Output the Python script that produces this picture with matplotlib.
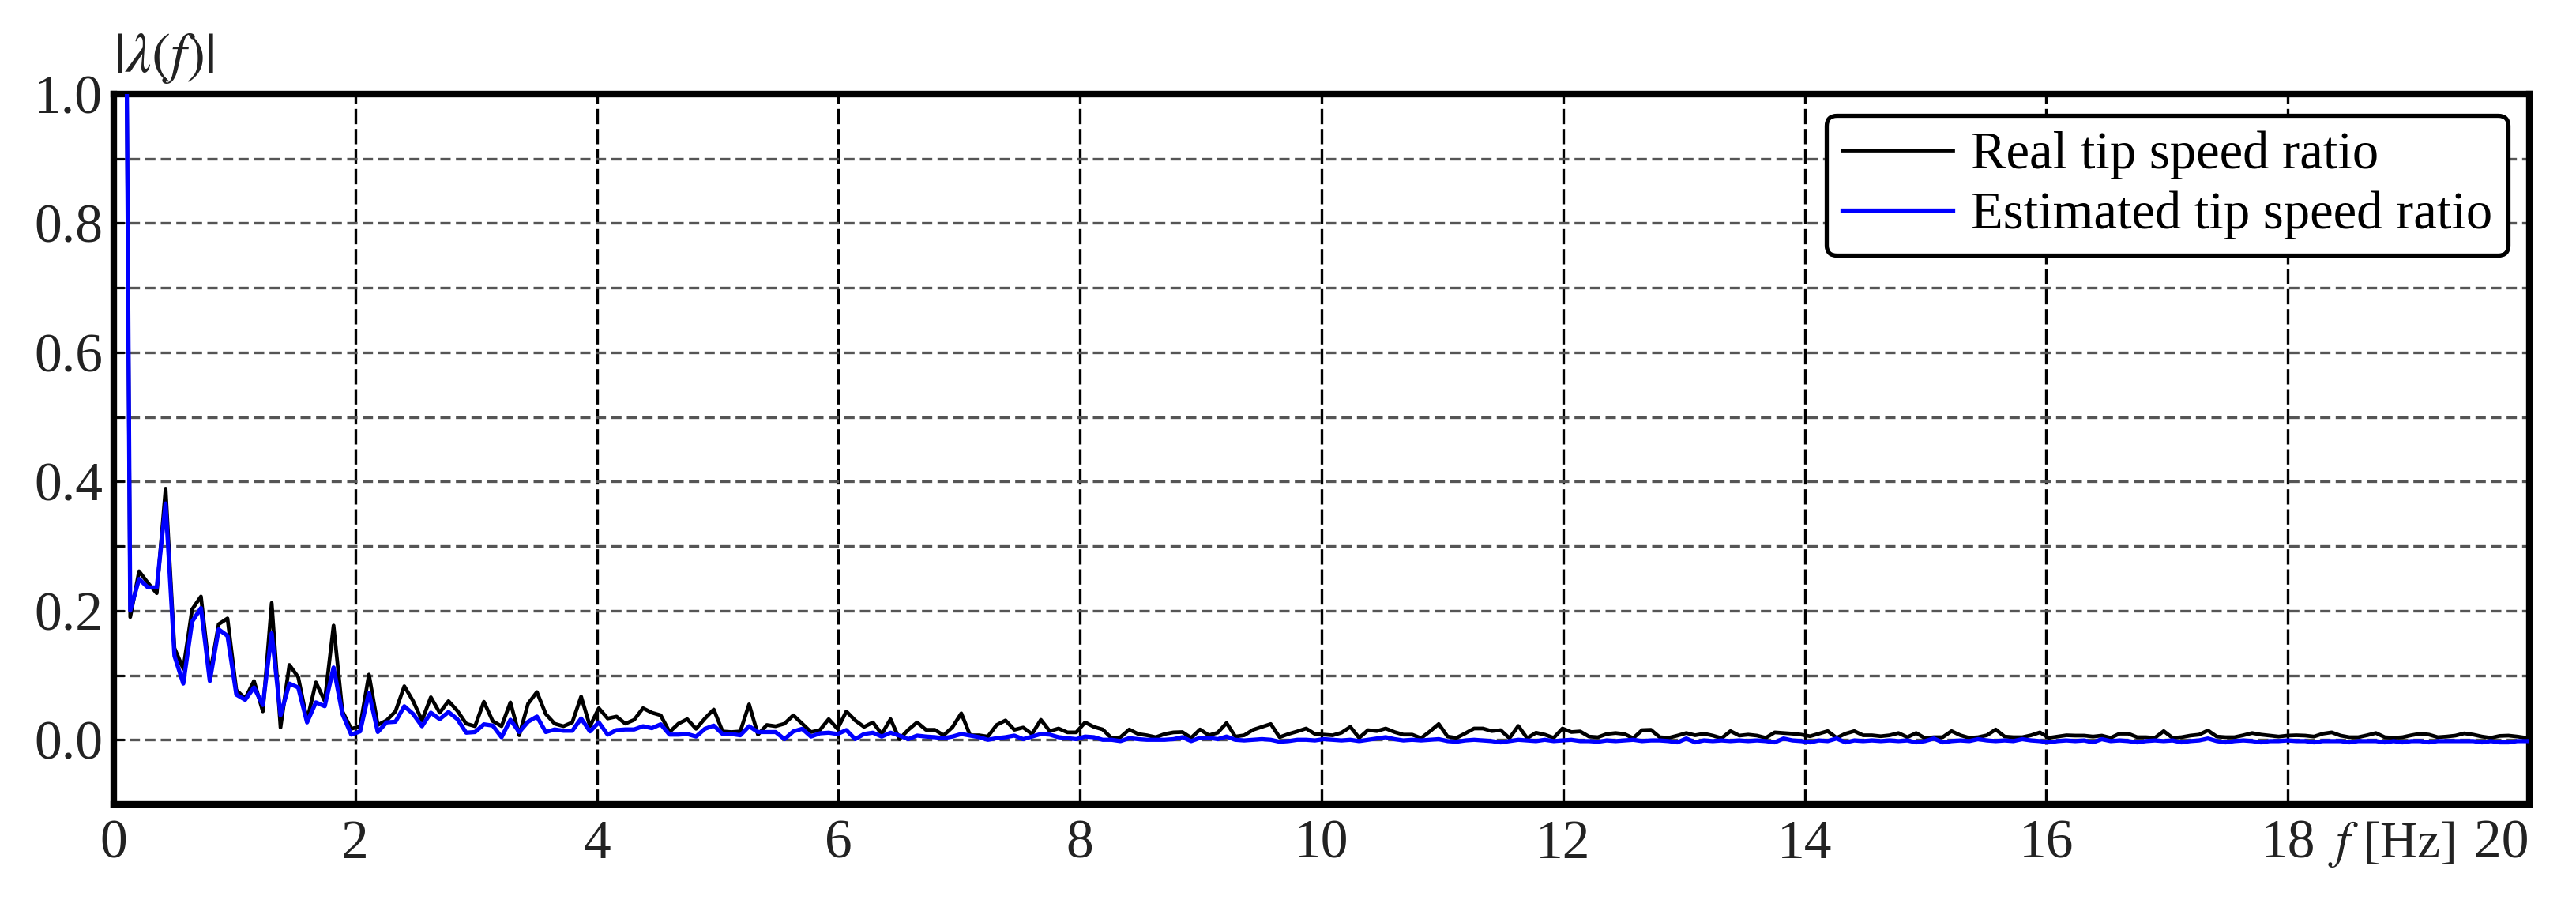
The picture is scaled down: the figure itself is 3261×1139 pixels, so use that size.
import numpy as np
import matplotlib
matplotlib.use("Agg")
import matplotlib.pyplot as plt
from matplotlib.ticker import MultipleLocator, FormatStrFormatter

plt.rcParams['font.family'] = ['Liberation Serif', 'DejaVu Serif']
plt.rcParams['mathtext.fontset'] = 'stix'

# frequency grid of the spectrum (bin spacing)
f_step = 0.0732
f_offset = -0.01

# |lambda(f)| of the real tip speed ratio, one value per bin
real_tsr = [
    2.3, 0.19, 0.261, 0.243, 0.227, 0.389, 0.142, 0.11, 0.202, 0.222,
    0.10, 0.179, 0.188, 0.077, 0.064, 0.091, 0.044, 0.212, 0.019, 0.116,
    0.097, 0.03, 0.089, 0.06, 0.177, 0.044, 0.017, 0.021, 0.101, 0.023,
    0.03, 0.044, 0.083, 0.06, 0.03, 0.066, 0.042, 0.06, 0.045, 0.025,
    0.021, 0.059, 0.029, 0.021, 0.058, 0.007, 0.056, 0.074, 0.04, 0.025,
    0.021, 0.027, 0.067, 0.021, 0.049, 0.033, 0.036, 0.025, 0.031, 0.049,
    0.042, 0.038, 0.012, 0.025, 0.032, 0.017, 0.033, 0.047, 0.013, 0.012,
    0.013, 0.055, 0.008, 0.023, 0.021, 0.025, 0.038, 0.025, 0.012, 0.015,
    0.032, 0.017, 0.044, 0.030, 0.020, 0.027, 0.009, 0.032, 0.001, 0.0155,
    0.027, 0.0155, 0.0155, 0.007, 0.0195, 0.041, 0.007, 0.007, 0.005, 0.023,
    0.030, 0.0155, 0.019, 0.009, 0.031, 0.0135, 0.0175, 0.0115, 0.0115, 0.027,
    0.020, 0.016, 0.0025, 0.004, 0.016, 0.009, 0.007, 0.004, 0.009, 0.0115,
    0.012, 0.003, 0.016, 0.007,
    0.011, 0.026, 0.005, 0.007, 0.0155, 0.020, 0.0245, 0.004, 0.009, 0.013,
    0.0175, 0.009, 0.008, 0.007, 0.011, 0.020, 0.003, 0.015, 0.0135, 0.0175,
    0.012, 0.008, 0.008, 0.0025, 0.013, 0.0245, 0.005, 0.003, 0.010, 0.0175,
    0.0175, 0.0135, 0.015, 0.0025, 0.0215, 0.0025, 0.011, 0.008, 0.003, 0.0175,
    0.012, 0.013, 0.005, 0.004, 0.009, 0.0105, 0.009, 0.0025, 0.015, 0.0155,
    0.004, 0.003, 0.0065, 0.0105, 0.007, 0.0095, 0.0065, 0.0025, 0.0135, 0.0065,
    0.008, 0.0065, 0.003, 0.0115, 0.0105, 0.0095, 0.008, 0.0055, 0.0095, 0.0135,
    0.003, 0.0095, 0.0135, 0.007, 0.007, 0.0055, 0.007, 0.0105, 0.004, 0.0105,
    0.0025, 0.004, 0.004, 0.0135, 0.007, 0.003, 0.004, 0.007, 0.016, 0.005,
    0.004, 0.004, 0.007, 0.0115, 0.003, 0.005, 0.007, 0.0065, 0.0065, 0.005,
    0.0065, 0.003, 0.0095, 0.0095, 0.004, 0.004, 0.003, 0.0135, 0.003, 0.004,
    0.0065, 0.008, 0.0145, 0.005, 0.004, 0.004, 0.007, 0.0105, 0.008, 0.0065,
    0.005, 0.0065, 0.007, 0.0065, 0.005, 0.0095, 0.0115, 0.0065, 0.004, 0.004,
    0.007, 0.0105, 0.004, 0.003, 0.004, 0.007, 0.0095, 0.008, 0.004, 0.005,
    0.0065, 0.010, 0.008, 0.005, 0.003, 0.006, 0.0065, 0.005, 0.003, 0.004,
]

# |lambda(f)| of the estimated tip speed ratio
est_tsr = [
    2.3, 0.20, 0.249, 0.236, 0.236, 0.366, 0.13, 0.087, 0.183, 0.204,
    0.091, 0.171, 0.161, 0.07, 0.062, 0.081, 0.054, 0.165, 0.038, 0.087,
    0.081, 0.027, 0.058, 0.052, 0.112, 0.04, 0.008, 0.013, 0.073, 0.012,
    0.027, 0.028, 0.052, 0.04, 0.021, 0.042, 0.032, 0.043, 0.032, 0.011,
    0.012, 0.024, 0.022, 0.004, 0.031, 0.012, 0.028, 0.036, 0.012, 0.016,
    0.014, 0.014, 0.033, 0.013, 0.027, 0.008, 0.015, 0.016, 0.016, 0.021,
    0.018, 0.024, 0.008, 0.008, 0.009, 0.005, 0.017, 0.022, 0.009, 0.009,
    0.007, 0.021, 0.012, 0.012, 0.012, 0.001, 0.013, 0.017, 0.005, 0.010,
    0.011, 0.009, 0.015, 0.001, 0.009, 0.011, 0.005, 0.011, 0.0065, 0.001,
    0.0065, 0.005, 0.004, 0.0025, 0.005, 0.009, 0.0065, 0.004, 0.0, 0.0025,
    0.004, 0.0065, 0.001, 0.005, 0.009, 0.008, 0.004, 0.0025, 0.001, 0.005,
    0.004, 0.0, 0.0, -0.002, 0.0025, 0.001, 0.0, 0.0, 0.0, 0.001,
    0.004, -0.002, 0.003, 0.003,
    0.001, 0.005, 0.0, -0.001, 0.0, 0.001, 0.0, -0.003, -0.002, 0.0,
    0.0, -0.001, 0.001, 0.0, -0.001, 0.0, -0.002, 0.0, 0.002, 0.004,
    0.001, -0.001, 0.0, -0.001, 0.0, 0.001, -0.002, -0.003, -0.001, 0.0,
    -0.001, -0.002, -0.004, -0.002, 0.0, -0.001, -0.002, 0.0, -0.002, -0.001,
    0.0, -0.002, -0.002, -0.003, -0.001, -0.002, -0.001, 0.0, -0.002, -0.001,
    -0.001, -0.002, -0.004, 0.002, -0.004, -0.001, -0.002, -0.001, -0.002, -0.001,
    -0.002, -0.001, -0.002, -0.004, 0.002, -0.001, -0.002, -0.004, -0.001, -0.002,
    0.002, -0.004, -0.001, -0.002, -0.001, -0.002, -0.001, -0.002, -0.001, -0.004,
    -0.002, 0.002, -0.004, -0.002, -0.001, -0.002, 0.001, -0.001, -0.002, -0.001,
    -0.002, 0.001, -0.001, -0.002, -0.004, -0.002, -0.001, -0.002, -0.001, -0.004,
    0.001, -0.002, -0.001, -0.002, -0.004, -0.002, -0.001, -0.002, -0.001, -0.004,
    -0.002, -0.001, 0.002, -0.002, -0.004, -0.002, -0.001, -0.002, -0.004, -0.002,
    -0.002, -0.001, -0.002, -0.002, -0.004, -0.002, -0.002, -0.002, -0.004, -0.002,
    -0.002, -0.002, -0.004, -0.002, -0.004, -0.002, -0.002, -0.004, -0.002, -0.002,
    -0.002, -0.002, -0.002, -0.004, -0.002, -0.004, -0.004, -0.002, -0.002, -0.002,
]

x_ticks = [0, 2, 4, 6, 8, 10, 12, 14, 16, 18, 20]
x_labels = [str(t) for t in x_ticks]

freq_real = f_step * np.arange(1, len(real_tsr) + 1) + f_offset
freq_est = f_step * np.arange(1, len(est_tsr) + 1) + f_offset

W, H = 3262, 1139
fig = plt.figure(figsize=(W / 200, H / 200), dpi=200)
ax = fig.add_axes([144 / W, 1 - 1018 / H, (3202 - 144) / W, (1018 - 119) / H])

ax.plot(freq_real, real_tsr, color='black', lw=1.7, label='Real tip speed ratio', zorder=3)
ax.plot(freq_est, est_tsr, color='#0000ff', lw=1.9, label='Estimated tip speed ratio', zorder=4)

ax.set_xlim(0, 20)
ax.set_ylim(-0.1, 1.0)
ax.set_xticks(x_ticks, x_labels)
ax.yaxis.set_major_locator(MultipleLocator(0.2))
ax.yaxis.set_minor_locator(MultipleLocator(0.1))
ax.yaxis.set_major_formatter(FormatStrFormatter('%.1f'))

ax.xaxis.grid(True, color='black', ls=(0, (5.8, 1.8)), lw=1.2)
ax.yaxis.grid(True, which='both', color='#555555', ls=(0, (3.9, 2.0)), lw=1.2)
ax.set_axisbelow(True)

for s in ax.spines.values():
    s.set_linewidth(3)

ax.tick_params(axis='x', length=0, pad=7, labelsize=25, labelcolor='#222222')
ax.tick_params(axis='y', which='both', direction='in', length=5, width=1,
               pad=5, labelsize=25, labelcolor='#222222')
for lbl in ax.get_xticklabels():
    if lbl.get_text() == '20':
        lbl.set_horizontalalignment('right')

# axis titles sit at the ends of the axes
ax.annotate(r'$|\lambda(f)|$', xy=(0, 1.0), xycoords='axes fraction',
            xytext=(0, 4), textcoords='offset points', ha='left', va='bottom',
            fontsize=26, color='#222222')
ax.annotate(r'$f$ [Hz]', xy=(18.33, 0), xycoords=('data', 'axes fraction'),
            xytext=(0, -7), textcoords='offset points', ha='left', va='top',
            fontsize=23.5, color='#222222')

leg = ax.legend(loc='upper right', fontsize=24, fancybox=True, framealpha=1,
                edgecolor='black', handlelength=2.1, handletextpad=0.35,
                labelspacing=0.22, borderaxespad=0.4, borderpad=0.3)
leg.get_frame().set_linewidth(1.9)

fig.savefig('out.png', dpi=200)
